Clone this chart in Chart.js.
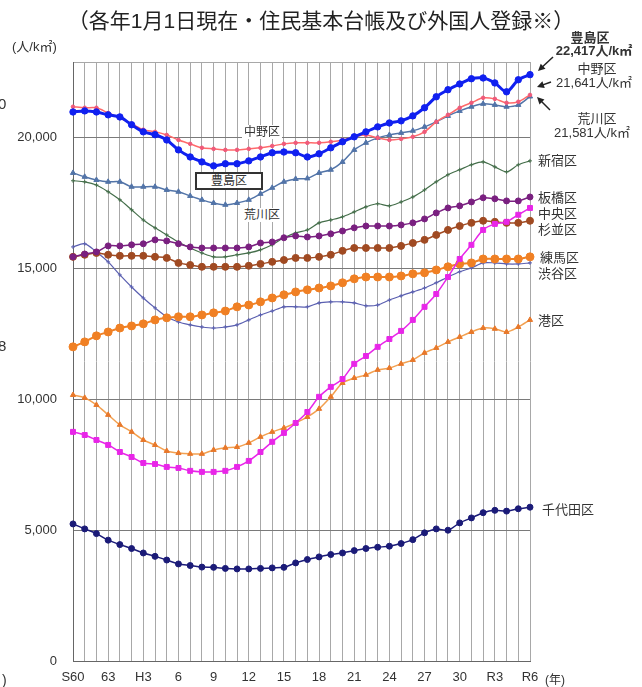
<!DOCTYPE html>
<html lang="ja">
<head>
<meta charset="utf-8">
<title>特別区の人口密度の推移</title>
<script src="https://cdn.jsdelivr.net/npm/chart.js@4.4.1/dist/chart.umd.min.js"></script>
<style>
  html, body { margin: 0; padding: 0; background: #fff; }
  #wrap { position: relative; width: 642px; height: 687px; overflow: hidden;
    font-family: "Liberation Sans", "Noto Sans CJK JP", sans-serif; color: #333; }
  #chart { position: absolute; left: 0; top: 0; }
  .t { position: absolute; white-space: nowrap; line-height: 1; transform: translateY(-50%); font-size: 13px; }
  .c { transform: translate(-50%, -50%); }
  .b { font-weight: bold; }
  .bg { background: #fff; padding: 1px 2px; }
  .box { background: #fff; border: 2px solid #333; padding: 1px 14px; font-size: 12px; }
</style>
</head>
<body>
<div id="wrap">
  <canvas id="chart" width="642" height="687"></canvas>

  <div class="t c" style="left:321px;top:20px;font-size:21px;color:#222;">（各年1月1日現在・住民基本台帳及び外国人登録※）</div>
  <div class="t" style="left:12px;top:46px;">(人/k㎡)</div>
  <div class="t" style="left:-2px;top:103px;font-size:15px;">0</div>
  <div class="t" style="left:-2px;top:345px;font-size:15px;">8</div>
  <div class="t" style="left:2px;top:680px;font-size:14px;">)</div>

  <div class="t c b" style="left:590px;top:37px;">豊島区</div>
  <div class="t c b" style="left:594px;top:50px;">22,417人/k㎡</div>
  <div class="t c" style="left:597px;top:68px;">中野区</div>
  <div class="t c" style="left:594px;top:82px;">21,641人/k㎡</div>
  <div class="t c" style="left:597px;top:118px;">荒川区</div>
  <div class="t c" style="left:592px;top:132px;">21,581人/k㎡</div>

  <div class="t" style="left:538px;top:160px;">新宿区</div>
  <div class="t" style="left:538px;top:197px;">板橋区</div>
  <div class="t" style="left:538px;top:213px;">中央区</div>
  <div class="t" style="left:538px;top:229px;">杉並区</div>
  <div class="t" style="left:540px;top:257px;">練馬区</div>
  <div class="t" style="left:538px;top:273px;">渋谷区</div>
  <div class="t" style="left:538px;top:320px;">港区</div>
  <div class="t" style="left:542px;top:509px;">千代田区</div>

  <div class="t c bg" style="left:262px;top:132px;font-size:12px;">中野区</div>
  <div class="t c box" style="left:229px;top:181px;">豊島区</div>
  <div class="t c bg" style="left:262px;top:215px;font-size:12px;">荒川区</div>

  <div class="t" style="left:545px;top:680px;font-size:12px;">(年)</div>
</div>

<script>
  // years S60 (1985) .. R6 (2024), one point per year
  const YEARS = [];
  for (let y = 1985; y <= 2024; y++) YEARS.push(String(y));
  const TICK_LABELS = ['S60', '63', 'H3', '6', '9', '12', '15', '18', '21', '24', '27', '30', 'R3', 'R6'];
  const Y_TICKS = [0, 5000, 10000, 15000, 20000];
  const Y_MAX = 22900;

  const TOSHIMA = [20990,21030,20990,20880,20800,20500,20230,20120,19920,19540,19270,19080,18930,19010,19010,19120,19270,19430,19460,19430,19270,19390,19620,19850,20040,20230,20420,20570,20650,20840,21150,21570,21840,22060,22260,22290,22100,21760,22220,22417];
  const NAKANO = [21190,21150,21150,20950,20760,20540,20310,20230,20110,19920,19770,19620,19580,19540,19540,19580,19620,19690,19770,19810,19810,19810,19850,19920,20040,20110,20000,19920,19960,20040,20230,20610,20880,21150,21340,21530,21490,21340,21380,21641];
  const ARAKAWA = [18660,18510,18390,18320,18320,18130,18130,18130,18010,17940,17780,17630,17510,17440,17510,17630,17860,18090,18320,18430,18450,18660,18780,19080,19540,19810,20000,20110,20190,20270,20420,20610,20840,21030,21190,21300,21260,21190,21260,21581];
  const SHINJUKU = [18360,18320,18200,17940,17630,17250,16860,16560,16290,16020,15790,15600,15450,15450,15530,15600,15720,15910,16180,16370,16480,16750,16860,16980,17170,17360,17480,17400,17550,17740,18010,18320,18590,18780,18970,19080,18890,18700,18970,19120];
  const ITABASHI = [15450,15560,15640,15870,15870,15910,15950,16100,16060,15950,15830,15790,15790,15790,15790,15830,15980,16020,16180,16250,16210,16250,16330,16440,16560,16630,16630,16630,16670,16750,16900,17130,17320,17400,17550,17710,17670,17590,17590,17740];
  const CHUO = [8760,8640,8450,8260,7990,7800,7570,7530,7420,7380,7270,7230,7230,7270,7420,7650,7990,8380,8720,9100,9520,10100,10480,10780,11360,11660,12010,12310,12620,13040,13540,14030,14680,15370,15910,16480,16710,16790,17060,17320];
  const SUGINAMI = [15450,15530,15600,15530,15490,15490,15490,15450,15410,15220,15140,15070,15070,15070,15070,15110,15180,15260,15330,15410,15410,15450,15530,15680,15790,15790,15790,15790,15870,15980,16100,16290,16480,16630,16750,16830,16790,16750,16750,16830];
  const NERIMA = [12010,12200,12430,12580,12730,12810,12890,13040,13120,13160,13160,13230,13310,13380,13540,13610,13730,13880,14000,14110,14190,14260,14340,14460,14610,14680,14680,14680,14720,14800,14840,14950,15070,15180,15220,15370,15370,15370,15370,15450];
  const SHIBUYA = [15830,15950,15640,15260,14760,14300,13880,13500,13160,12960,12850,12770,12730,12770,12850,13040,13230,13380,13540,13540,13540,13690,13730,13730,13690,13580,13610,13800,13960,14110,14260,14460,14680,14880,15030,15220,15220,15180,15180,15220];
  const MINATO = [10170,10060,9790,9410,9030,8760,8450,8260,8030,7950,7920,7920,8070,8150,8180,8340,8570,8760,8910,9100,9330,9640,10100,10630,10820,10940,11130,11200,11360,11510,11780,11970,12200,12390,12580,12730,12700,12580,12770,13040];
  const CHIYODA = [5240,5050,4870,4620,4450,4300,4130,4000,3860,3710,3650,3590,3580,3540,3520,3520,3540,3560,3580,3750,3880,3980,4070,4130,4220,4300,4350,4390,4490,4640,4900,5050,5000,5280,5470,5670,5760,5730,5820,5880];

  function series(label, data, color, style, radius, width, pointColor) {
    return {
      label: label,
      data: data,
      borderColor: color,
      backgroundColor: pointColor || color,
      pointBorderColor: pointColor || color,
      pointBackgroundColor: pointColor || color,
      pointStyle: style,
      pointRadius: radius,
      pointBorderWidth: 1,
      borderWidth: width,
      tension: 0.3,
      fill: false
    };
  }

  // first dataset is drawn on top
  const datasets = [
    series('豊島区', TOSHIMA, '#1020f0', 'circle', 3.2, 3),
    series('中野区', NAKANO, '#ff6a6a', 'circle', 1.8, 1.5, '#f05a7a'),
    series('荒川区', ARAKAWA, '#5274a8', 'triangle', 3, 1.5),
    series('中央区', CHUO, '#e826e8', 'rect', 3.5, 1.5),
    series('板橋区', ITABASHI, '#7a2080', 'circle', 3, 1.5),
    series('杉並区', SUGINAMI, '#a04a22', 'circle', 3.5, 1.5),
    series('練馬区', NERIMA, '#f08024', 'circle', 4, 2),
    series('港区', MINATO, '#f2a050', 'triangle', 3, 1.5, '#e8782a'),
    series('新宿区', SHINJUKU, '#446e4a', 'cross', 2, 1.2),
    series('渋谷区', SHIBUYA, '#5a5fb0', 'cross', 2, 1.2),
    series('千代田区', CHIYODA, '#1b1b78', 'circle', 3, 1.5)
  ];

  const arrows = {
    id: 'arrows',
    afterDatasetsDraw(chart) {
      const ctx = chart.ctx;
      const list = [
        [553, 57, 538, 71],
        [551, 82, 537, 87],
        [550, 110, 537, 97]
      ];
      ctx.save();
      ctx.strokeStyle = '#222';
      ctx.fillStyle = '#222';
      ctx.lineWidth = 1.5;
      list.forEach(([x1, y1, x2, y2]) => {
        const a = Math.atan2(y2 - y1, x2 - x1);
        ctx.beginPath();
        ctx.moveTo(x1, y1);
        ctx.lineTo(x2 - 4 * Math.cos(a), y2 - 4 * Math.sin(a));
        ctx.stroke();
        ctx.beginPath();
        ctx.moveTo(x2, y2);
        ctx.lineTo(x2 - 7 * Math.cos(a) + 3.5 * Math.sin(a), y2 - 7 * Math.sin(a) - 3.5 * Math.cos(a));
        ctx.lineTo(x2 - 7 * Math.cos(a) - 3.5 * Math.sin(a), y2 - 7 * Math.sin(a) + 3.5 * Math.cos(a));
        ctx.closePath();
        ctx.fill();
      });
      ctx.restore();
    }
  };

  new Chart(document.getElementById('chart'), {
    type: 'line',
    data: { labels: YEARS, datasets: datasets },
    options: {
      responsive: false,
      animation: false,
      devicePixelRatio: 1,
      layout: { padding: { top: 62, right: 112, left: 0, bottom: 0 } },
      plugins: {
        legend: { display: false },
        tooltip: { enabled: false }
      },
      scales: {
        x: {
          offset: false,
          grid: { color: '#a8a8a8', lineWidth: 1, drawTicks: false },
          border: { color: '#666', width: 1 },
          ticks: {
            autoSkip: false,
            maxRotation: 0,
            padding: 9,
            color: '#333',
            font: { family: '"Liberation Sans", Arial, sans-serif', size: 13 },
            callback: (v, i) => (i % 3 === 0 ? TICK_LABELS[i / 3] : '')
          },
          afterFit: (s) => { s.height = 26; }
        },
        y: {
          min: 0,
          max: Y_MAX,
          afterBuildTicks: (axis) => {
            axis.ticks = Y_TICKS.concat([Y_MAX]).map((v) => ({ value: v }));
          },
          grid: { color: (c) => (c.tick && c.tick.value === Y_MAX ? '#a8a8a8' : '#7a7a7a'), lineWidth: 1, drawTicks: false },
          border: { color: '#666', width: 1 },
          ticks: {
            padding: 16,
            color: '#333',
            font: { family: '"Liberation Sans", Arial, sans-serif', size: 13 },
            callback: (v) => (v === Y_MAX ? '' : v.toLocaleString('en-US'))
          },
          afterFit: (s) => { s.width = 73; }
        }
      }
    },
    plugins: [arrows]
  });
</script>
</body>
</html>
